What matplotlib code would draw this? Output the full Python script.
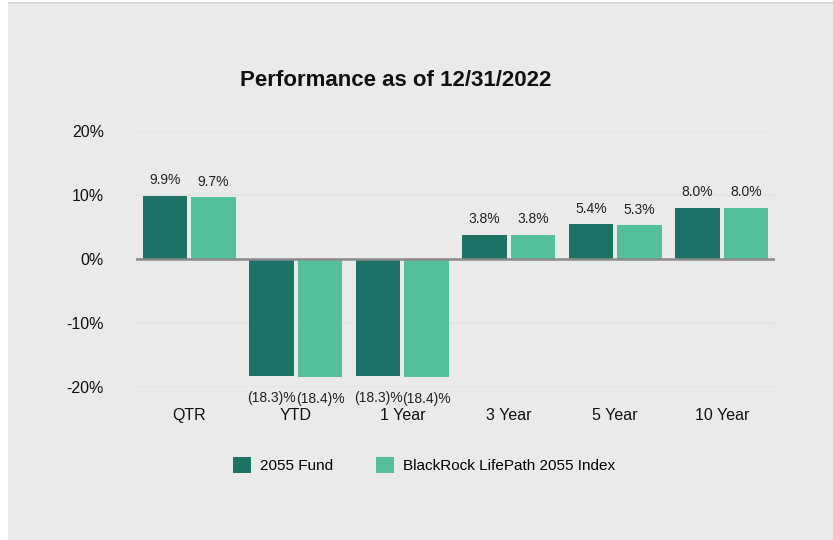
import matplotlib.pyplot as plt
import numpy as np
from matplotlib.patches import Rectangle

# データ
categories = ["QTR", "YTD", "1 Year", "3 Year", "5 Year", "10 Year"]
fund = [9.9, -18.3, -18.3, 3.8, 5.4, 8.0]
index = [9.7, -18.4, -18.4, 3.8, 5.3, 8.0]
series_names = ["2055 Fund", "BlackRock LifePath 2055 Index"]
yticks = [-20, -10, 0, 10, 20]

plt.rcParams['font.family'] = ['Liberation Sans Narrow', 'Liberation Sans', 'DejaVu Sans']

dark = "#1b7265"
light = "#55bf9b"
bg = "#eaeaea"

fig = plt.figure(figsize=(8.33, 5.4), dpi=100, facecolor="white")
# 背景パネル
fig.patches.append(Rectangle((8 / 833, 0), 1, 1 - 4 / 540, transform=fig.transFigure,
                             facecolor=bg, edgecolor="none", zorder=-10))
fig.patches.append(Rectangle((8 / 833, 1 - 4 / 540), 1, 2 / 540, transform=fig.transFigure,
                             facecolor="#d9d9d9", edgecolor="none", zorder=-10))

ax = fig.add_axes([136 / 833, 1 - 387 / 540, 639 / 833, 256 / 540])
ax.set_facecolor("none")

x = np.arange(len(categories))
w = 0.415
gap = 0.04
b1 = ax.bar(x - w / 2 - gap / 2, fund, w, color=dark, label=series_names[0], zorder=3)
b2 = ax.bar(x + w / 2 + gap / 2, index, w, color=light, label=series_names[1], zorder=3)

def fmt(v):
    return f"{v:.1f}%" if v >= 0 else f"({abs(v):.1f})%"

for bars, vals in [(b1, fund), (b2, index)]:
    for r, v in zip(bars, vals):
        cx = r.get_x() + r.get_width() / 2
        if v >= 0:
            ax.annotate(fmt(v), (cx, v), xytext=(0, 6), textcoords="offset points",
                        ha="center", va="bottom", fontsize=10, color="#222222")
        else:
            ax.annotate(fmt(v), (cx, v), xytext=(0, -11), textcoords="offset points",
                        ha="center", va="top", fontsize=10, color="#222222")

ax.set_ylim(-20, 20)
ax.set_xlim(-0.5, len(categories) - 0.5)
ax.set_yticks(yticks)
ax.set_yticklabels([f"{t}%" for t in yticks])
ax.set_xticks(x)
ax.set_xticklabels(categories)
ax.tick_params(axis="y", length=0, pad=23, labelsize=11.5, labelcolor="#111111")
ax.tick_params(axis="x", length=0, pad=15, labelsize=11.5, labelcolor="#111111")
for t in yticks:
    if t != 0:
        ax.axhline(t, color="#e3e3e3", lw=1.2, zorder=1)
ax.axhline(0, color="#8a8a8a", lw=1.8, zorder=4)
for s in ax.spines.values():
    s.set_visible(False)

fig.text(396 / 833, 1 - 80 / 540, "Performance as of 12/31/2022", ha="center", va="center",
         fontsize=16, fontweight="bold", color="#111111")

fig.legend(handles=[b1, b2], loc="center", bbox_to_anchor=(424 / 833, 1 - 465 / 540),
           ncol=2, frameon=False, fontsize=11, handlelength=1.2, handleheight=1.2,
           columnspacing=2.75, handletextpad=0.6)

plt.savefig("out.png", dpi=100, facecolor=fig.get_facecolor())
